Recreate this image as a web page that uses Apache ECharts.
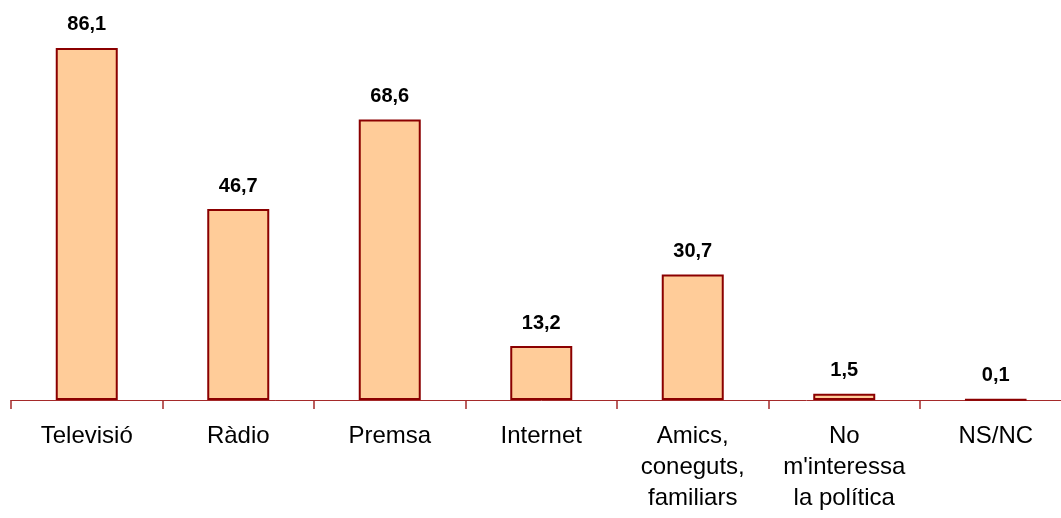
<!DOCTYPE html>
<html><head><meta charset="utf-8">
<script src="https://cdn.jsdelivr.net/npm/echarts@6/dist/echarts.min.js"></script>
<style>html,body{margin:0;padding:0;background:#fff;overflow:hidden;width:1061px;height:518px}#c{width:1072px;height:518px}</style>
</head><body><div id="c"></div>
<script>
const categories = ['Televisió','Ràdio','Premsa','Internet','Amics,\nconeguts,\nfamiliars','No\nm\'interessa\nla política','NS/NC'];
const values = [86.1, 46.7, 68.6, 13.2, 30.7, 1.5, 0.1];
const chart = echarts.init(document.getElementById('c'));
chart.setOption({
  animation: false,
  grid: {left: 11, right: 0.5, top: 32, height: 368},
  xAxis: {
    type: 'category', data: categories,
    axisLine: {lineStyle: {color: '#a52a2a', width: 1}},
    axisTick: {show: true, length: 9, lineStyle: {color: '#a52a2a', width: 1.5}},
    axisLabel: {interval: 0, color: '#000', fontFamily: 'Liberation Sans, Arial', fontSize: 24, lineHeight: 31, margin: 21}
  },
  yAxis: {type: 'value', min: 0, max: 90, show: false, splitLine: {show: false}},
  series: [{
    type: 'bar', data: values, barWidth: 62,
    itemStyle: {color: '#FFCC99', borderColor: '#8B0000', borderWidth: 2},
    label: {show: true, position: 'top', distance: 13, color: '#000', fontWeight: 'bold',
      fontFamily: 'Liberation Sans, Arial', fontSize: 20,
      formatter: p => p.value.toFixed(1).replace('.', ',')}
  }]
});
</script></body></html>
